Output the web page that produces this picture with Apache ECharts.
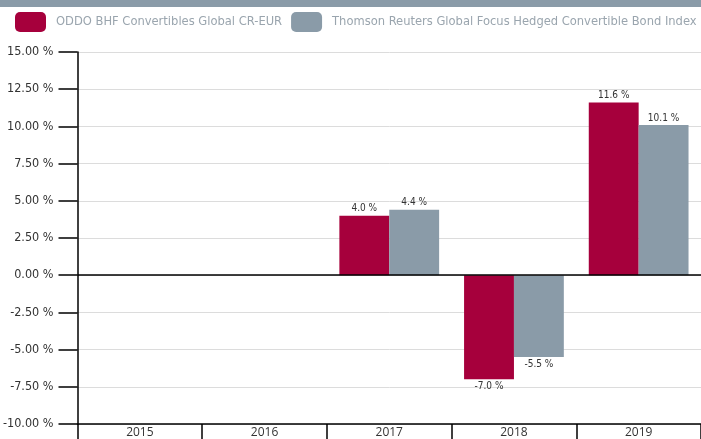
<!DOCTYPE html>
<html>
<head>
<meta charset="utf-8">
<script src="https://cdn.jsdelivr.net/npm/echarts@6/dist/echarts.min.js"></script>
<style>
  html, body { margin: 0; padding: 0; background: #fff; }
  #chart { width: 701px; height: 439px; }
</style>
</head>
<body>
<div id="chart"></div>
<script>
// years on the x axis
var years = ['2015', '2016', '2017', '2018', '2019']
// yearly performance, % (null = no data)
var fundValues = [null, null, 4.0, -7.0, 11.6]
var indexValues = [null, null, 4.4, -5.5, 10.1]
var seriesNames = ['ODDO BHF Convertibles Global CR-EUR', 'Thomson Reuters Global Focus Hedged Convertible Bond Index']

var font = "'Liberation Sans Narrow', 'DejaVu Sans Condensed', 'Roboto', sans-serif"
var myChart = echarts.init(document.getElementById('chart'))

function barLabel(p) {
  return p.value.toFixed(1) + ' %'
}

myChart.setOption({
  animation: false,
  textStyle: { fontFamily: font },
  graphic: [
    {
      type: 'rect',
      left: 0,
      top: 0,
      shape: { width: 701, height: 7 },
      style: { fill: '#8a9ba8' },
    },
  ],
  legend: {
    left: 15,
    top: 12,
    width: 690,
    padding: 0,
    itemWidth: 31,
    itemHeight: 20,
    itemGap: 9,
    icon: 'roundRect',
    textStyle: { color: '#9aa5ae', fontSize: 12.8, fontFamily: font, padding: [0, 0, 0, 5] },
    data: seriesNames,
  },
  grid: { left: 76, right: 0, top: 52, bottom: 15 },
  xAxis: {
    type: 'category',
    data: years,
    axisLine: { onZero: false, lineStyle: { color: '#000', width: 1.5 } },
    axisTick: { show: true, length: 16, inside: false, lineStyle: { color: '#000', width: 1.5 } },
    axisLabel: { color: '#333', fontSize: 12, margin: 3, fontFamily: "'Open Sans', sans-serif" },
  },
  yAxis: {
    type: 'value',
    min: -10,
    max: 15,
    interval: 2.5,
    axisLine: { show: true, lineStyle: { color: '#000', width: 1.5 } },
    axisTick: { show: true, length: 19, lineStyle: { color: '#000', width: 1.5 } },
    axisLabel: {
      color: '#333',
      fontSize: 12.5,
      margin: 24,
      formatter: function (v) { return v.toFixed(2) + ' %' },
    },
    splitLine: { lineStyle: { color: '#dcdcdc', width: 1 } },
  },
  series: [
    {
      name: seriesNames[0],
      type: 'bar',
      data: fundValues,
      barGap: 0,
      barCategoryGap: '20%',
      itemStyle: { color: '#a6003c' },
      label: { show: true, position: 'outside', formatter: barLabel, color: '#333', fontSize: 10, distance: 2 },
      markLine: {
        silent: true,
        symbol: 'none',
        label: { show: false },
        lineStyle: { color: '#000', width: 1.5, type: 'solid' },
        data: [{ yAxis: 0 }],
      },
    },
    {
      name: seriesNames[1],
      type: 'bar',
      data: indexValues,
      itemStyle: { color: '#8a9ba8' },
      label: { show: true, position: 'outside', formatter: barLabel, color: '#333', fontSize: 10, distance: 2 },
    },
  ],
})
</script>
</body>
</html>
